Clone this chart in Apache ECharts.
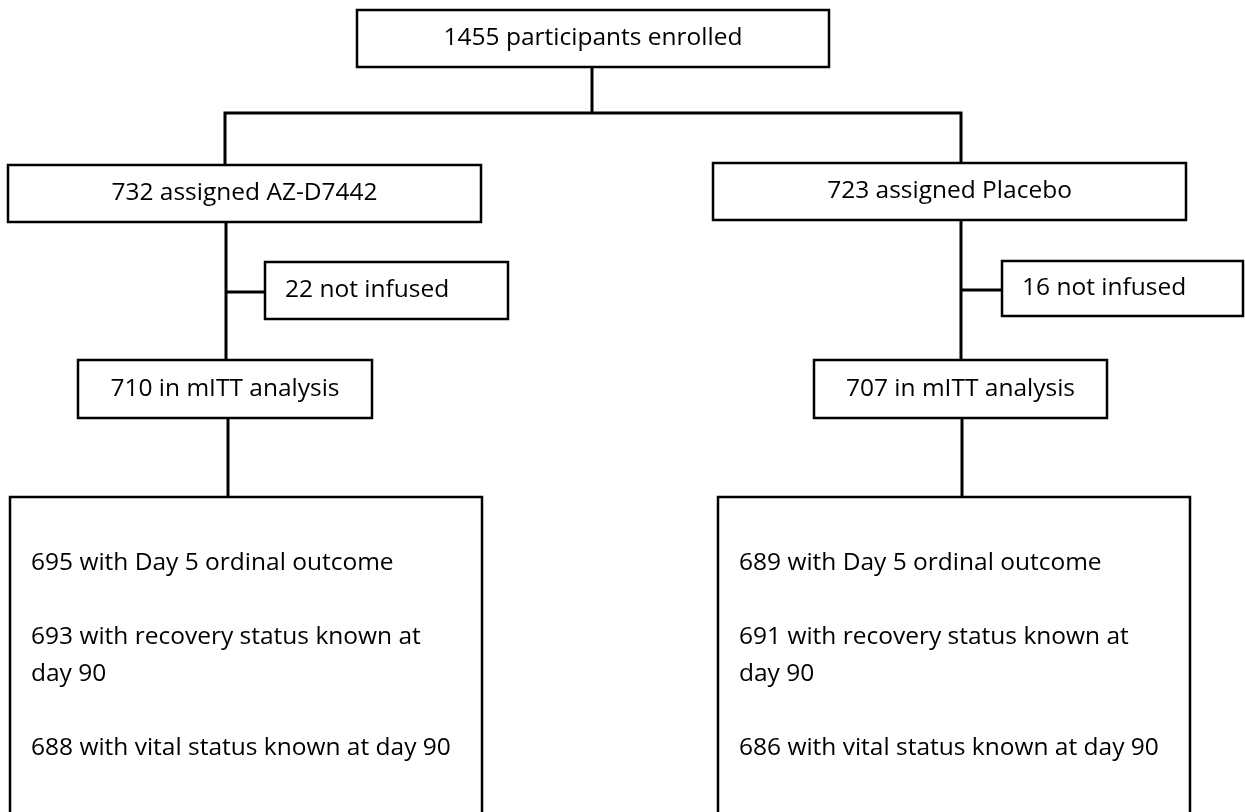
<!DOCTYPE html>
<html>
<head>
<meta charset="utf-8">
<title>Participant flow</title>
<script src="https://cdn.jsdelivr.net/npm/echarts@6/dist/echarts.min.js"></script>
<style>
	html, body { margin: 0; padding: 0; background: #fff; }
	#flow { width: 1245px; height: 812px; }
</style>
</head>
<body>
<div id="flow"></div>
<script>
// box texts
var enrolled = ['1455 participants enrolled'];
var assigned = ['732 assigned AZ-D7442', '723 assigned Placebo'];
var notInfused = ['22 not infused', '16 not infused'];
var mitt = ['710 in mITT analysis', '707 in mITT analysis'];
var outcomesAz = [
	'695 with Day 5 ordinal outcome',
	'693 with recovery status known at\nday 90',
	'688 with vital status known at day 90'
];
var outcomesPlacebo = [
	'689 with Day 5 ordinal outcome',
	'691 with recovery status known at\nday 90',
	'686 with vital status known at day 90'
];

// layout (page coords) : x0, y0, x1, y1
var boxLayout = [
	[357, 10, 829, 67],
	[8, 165, 481, 222],
	[713, 163, 1186, 220],
	[265, 262, 508, 319],
	[1002, 261, 1243, 316],
	[78, 360, 372, 418],
	[814, 360, 1107, 418],
	[10, 497, 482, 840],
	[718, 497, 1190, 840]
];
var outcomeY = [563, 656, 748];

var connectors = [
	[[592, 67], [592, 113]],
	[[225, 165], [225, 113], [961, 113], [961, 163]],
	[[226, 222], [226, 360]],
	[[226, 292], [265, 292]],
	[[961, 220], [961, 360]],
	[[961, 290], [1002, 290]],
	[[228, 418], [228, 497]],
	[[962, 418], [962, 497]]
];

var FONT = '"Open Sans", "Noto Sans", sans-serif';
var FS = 24.5;

function boxText(i) {
	var t = [enrolled[0], assigned[0], assigned[1], notInfused[0], notInfused[1], mitt[0], mitt[1]];
	return t[i] || '';
}

var boxData = boxLayout.map(function (b, i) {
	return [b[0], b[1], b[2], b[3], i];
});

var chart = echarts.init(document.getElementById('flow'));

var option = {
	animation: false,
	grid: { left: 0, right: 0, top: 0, bottom: 0 },
	xAxis: { type: 'value', min: 0, max: 1245, show: false },
	yAxis: { type: 'value', min: 0, max: 812, inverse: true, show: false },
	series: [{
		type: 'custom',
		name: 'connectors',
		data: connectors.map(function (c, i) { return [c[0][0], c[0][1], i]; }),
		clip: false,
		renderItem: function (params, api) {
			var pts = connectors[api.value(2)].map(function (p) { return api.coord(p); });
			return {
				type: 'polyline',
				shape: { points: pts },
				style: { stroke: '#000', lineWidth: 3, fill: null }
			};
		}
	}, {
		type: 'custom',
		name: 'boxes',
		data: boxData,
		clip: false,
		renderItem: function (params, api) {
			var i = api.value(4);
			var p0 = api.coord([api.value(0), api.value(1)]);
			var p1 = api.coord([api.value(2), api.value(3)]);
			var children = [{
				type: 'rect',
				shape: { x: p0[0], y: p0[1], width: p1[0] - p0[0], height: p1[1] - p0[1] },
				style: { fill: '#fff', stroke: '#000', lineWidth: 2.5 }
			}];
			if (i < 7) {
				var left = (i === 3 || i === 4);
				children.push({
					type: 'text',
					style: {
						text: boxText(i),
						x: left ? p0[0] + 20 : (p0[0] + p1[0]) / 2,
						y: (p0[1] + p1[1]) / 2,
						align: left ? 'left' : 'center',
						verticalAlign: 'middle',
						font: FS + 'px ' + FONT,
						fill: '#000'
					}
				});
			} else {
				var lines = i === 7 ? outcomesAz : outcomesPlacebo;
				lines.forEach(function (txt, k) {
					var yy = api.coord([0, outcomeY[k]])[1];
					children.push({
						type: 'text',
						style: {
							text: txt,
							x: p0[0] + 21,
							y: yy,
							align: 'left',
							verticalAlign: 'middle',
							font: FS + 'px ' + FONT,
							lineHeight: 37,
							fill: '#000'
						}
					});
				});
			}
			return { type: 'group', children: children };
		}
	}]
};

chart.setOption(option);
</script>
</body>
</html>
